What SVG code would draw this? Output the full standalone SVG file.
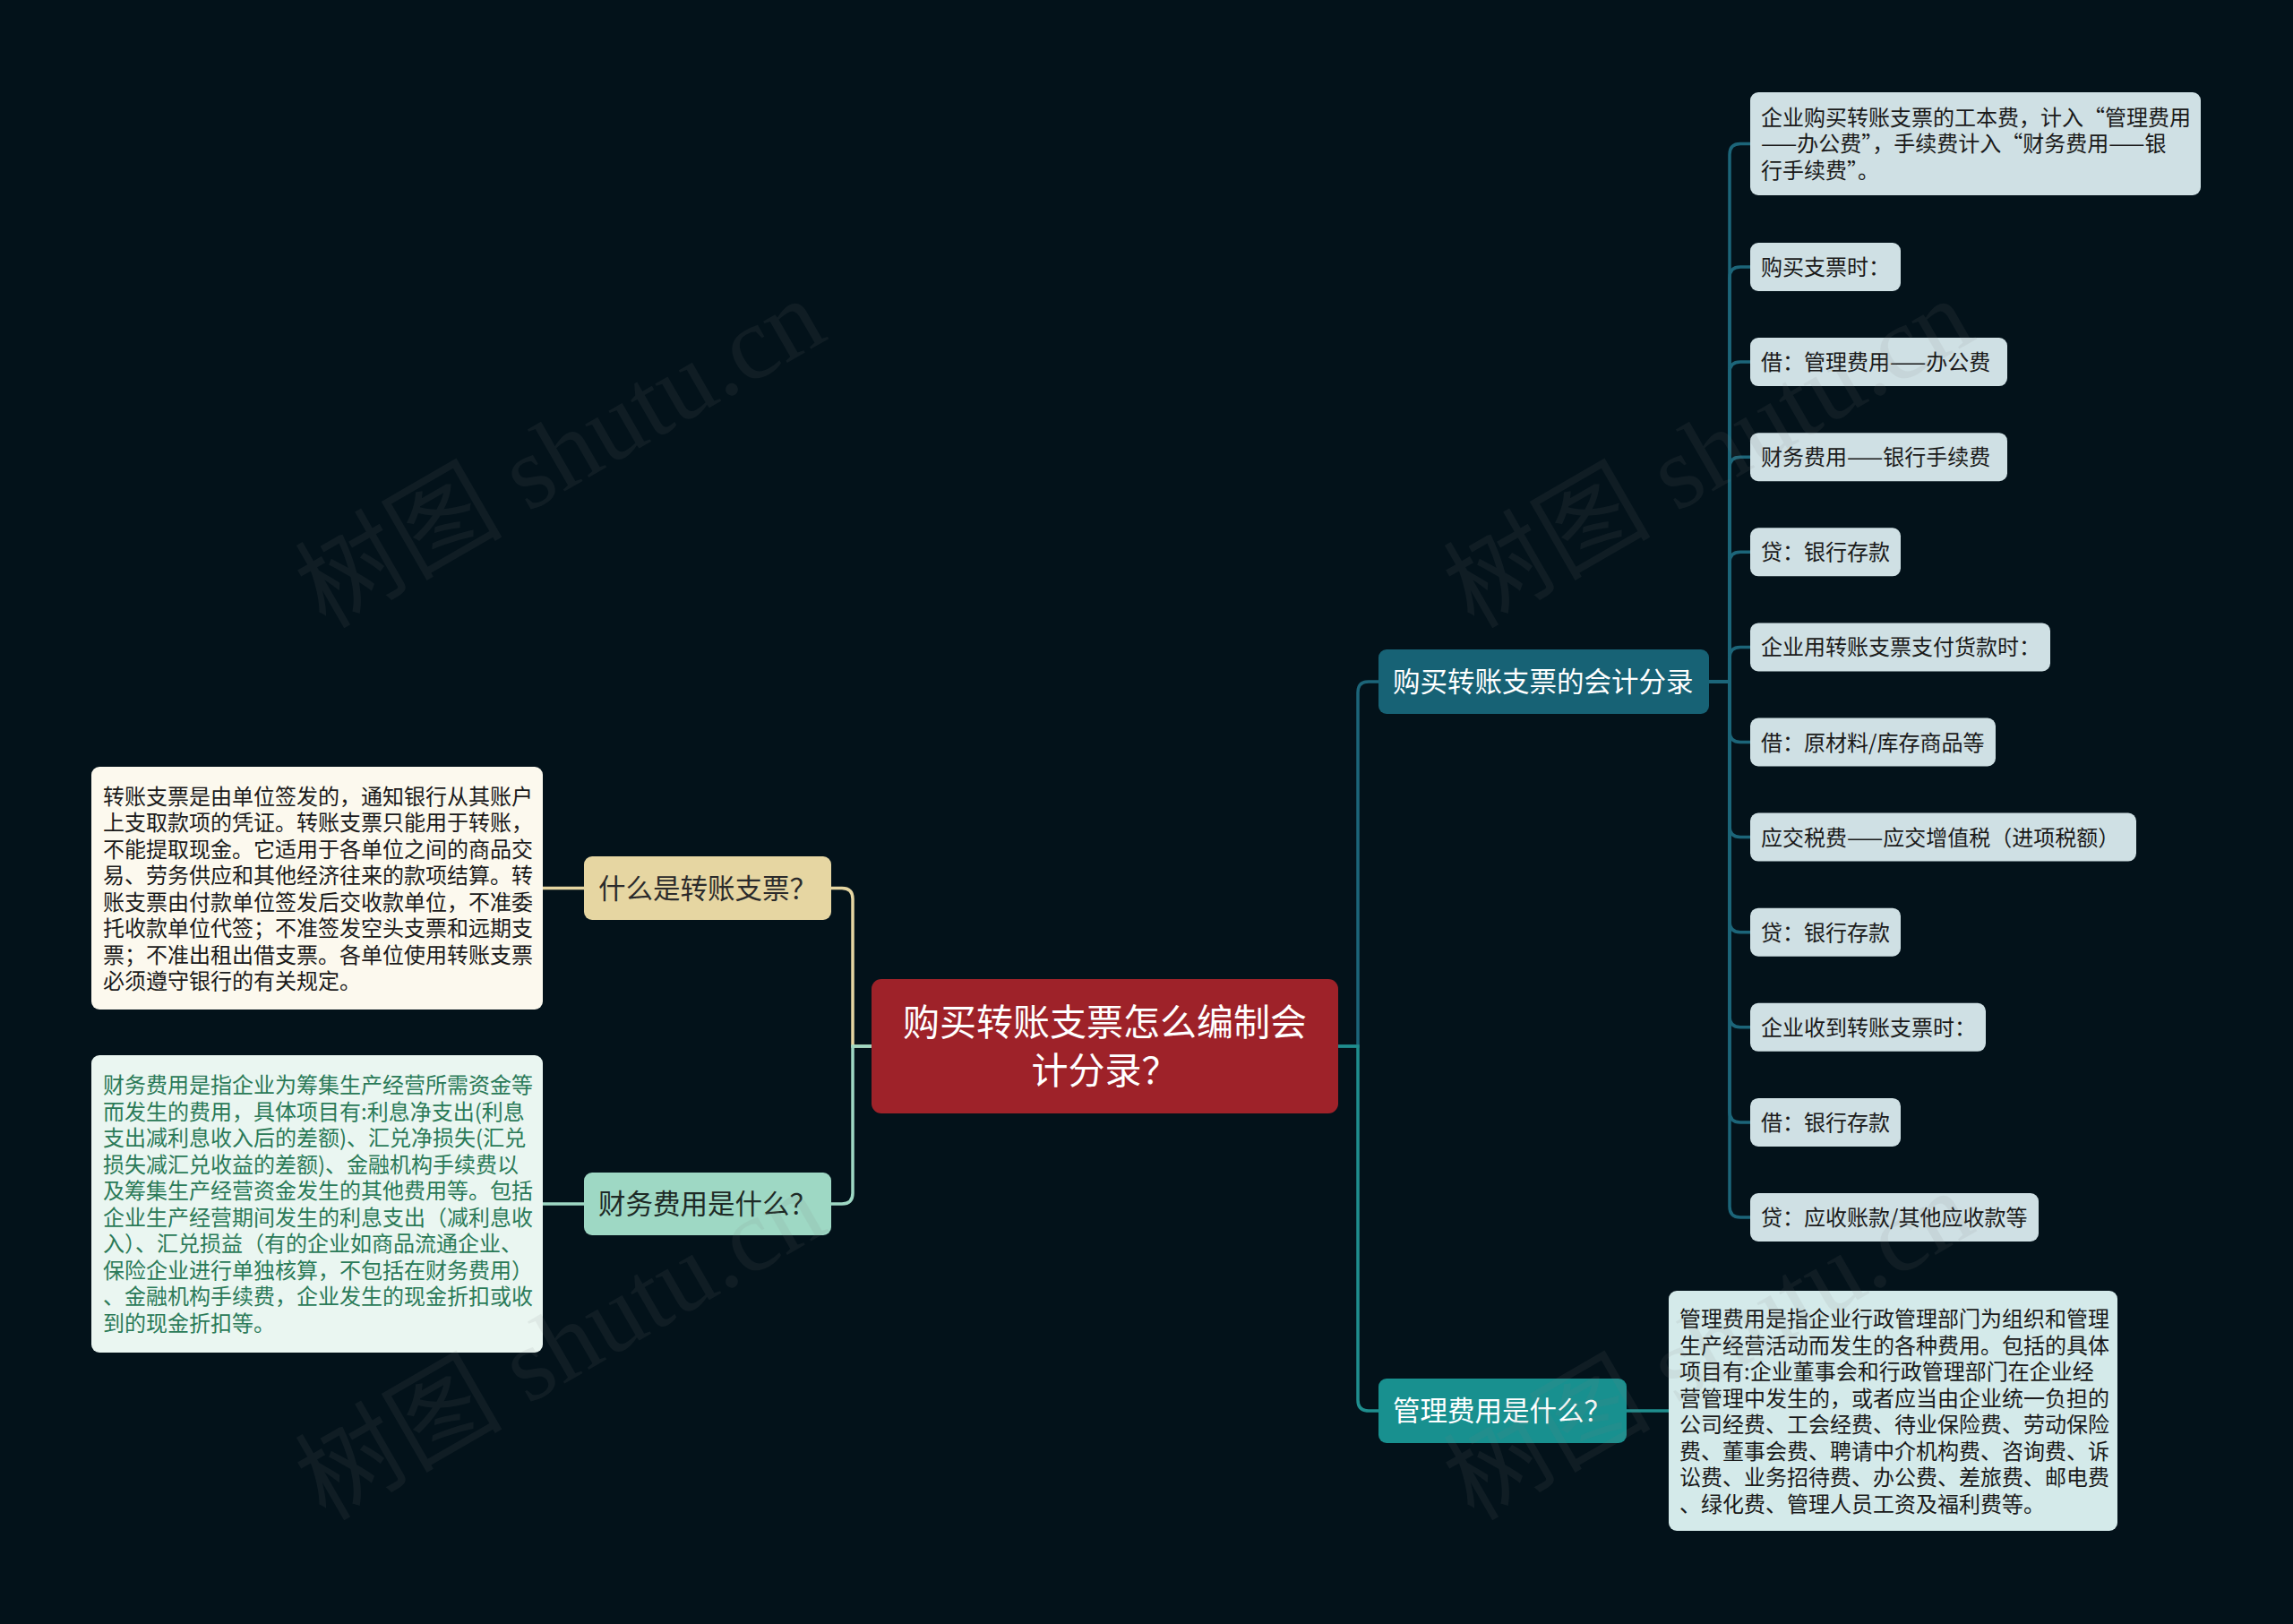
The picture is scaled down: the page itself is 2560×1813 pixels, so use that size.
<svg xmlns="http://www.w3.org/2000/svg" width="2560" height="1813" viewBox="0 0 2560 1813">
<style>
text{font-family:"Noto Sans CJK SC","Noto Sans",sans-serif;}
.leaf{fill:#cfe0e4;}
.lt{font-size:24px;fill:#1a1a1a;}
.bt{font-size:30.5px;}
.con{fill:none;stroke-width:3.5;stroke-linecap:round;}
.c1{stroke:#1c6579;}
.c2{stroke:#1f8e8e;}
.c3{stroke:#e6d6a2;}
.c4{stroke:#9ed8c4;}
.wm{font-family:"Liberation Serif","Noto Sans CJK SC",serif;font-size:116px;fill:#808080;opacity:0.1;}
</style>
<rect x="0" y="0" width="2560" height="1813" fill="#03121a"/>

<g id="connectors">
  <path class="con c3" d="M973 1168 H952 V1003.5 Q952 991.5 940 991.5 H928"/>
  <path class="con c4" d="M973 1168 H952 V1332 Q952 1344 940 1344 H928"/>
  <path class="con c3" d="M652 991.5 H606"/>
  <path class="con c4" d="M652 1344 H606"/>
  <path class="con c1" d="M1494 1168 H1516 V773 Q1516 761 1528 761 H1539"/>
  <path class="con c2" d="M1494 1168 H1516 V1563 Q1516 1575 1528 1575 H1539"/>
  <path class="con c2" d="M1816 1575 H1863"/>
  <path class="con c1" d="M1908 761 H1931 V172.5 Q1931 160.5 1943 160.5 H1954"/>
  <path class="con c1" d="M1908 761 H1931 V310 Q1931 298 1943 298 H1954"/>
  <path class="con c1" d="M1908 761 H1931 V416.1 Q1931 404.1 1943 404.1 H1954"/>
  <path class="con c1" d="M1908 761 H1931 V522.2 Q1931 510.2 1943 510.2 H1954"/>
  <path class="con c1" d="M1908 761 H1931 V628.3 Q1931 616.3 1943 616.3 H1954"/>
  <path class="con c1" d="M1908 761 H1931 V734.4 Q1931 722.4 1943 722.4 H1954"/>
  <path class="con c1" d="M1908 761 H1931 V816.5 Q1931 828.5 1943 828.5 H1954"/>
  <path class="con c1" d="M1908 761 H1931 V922.6 Q1931 934.6 1943 934.6 H1954"/>
  <path class="con c1" d="M1908 761 H1931 V1028.7 Q1931 1040.7 1943 1040.7 H1954"/>
  <path class="con c1" d="M1908 761 H1931 V1134.8 Q1931 1146.8 1943 1146.8 H1954"/>
  <path class="con c1" d="M1908 761 H1931 V1240.9 Q1931 1252.9 1943 1252.9 H1954"/>
  <path class="con c1" d="M1908 761 H1931 V1347 Q1931 1359 1943 1359 H1954"/>
</g>

<g id="root">
  <rect x="973" y="1093" width="521" height="150" rx="11" fill="#9e2229"/>
  <text x="1233.5" y="1156" font-size="41" fill="#ffffff" text-anchor="middle">购买转账支票怎么编制会</text>
  <text x="1233.5" y="1210" font-size="41" fill="#ffffff" text-anchor="middle">计分录？</text>
</g>

<g id="n-what-cheque">
  <rect x="652" y="956" width="276" height="71" rx="9" fill="#e6d6a2"/>
  <text class="bt" x="668" y="1002.5" fill="#2b2b2b">什么是转账支票？</text>
</g>
<g id="n-what-cheque-desc">
  <rect x="102" y="856" width="504" height="271" rx="9" fill="#fcf9ee"/>
  <g class="lt" fill="#2b2b2b">
    <text class="lt" x="115" y="897.5">转账支票是由单位签发的，通知银行从其账户</text>
    <text class="lt" x="115" y="927">上支取款项的凭证。转账支票只能用于转账，</text>
    <text class="lt" x="115" y="956.5">不能提取现金。它适用于各单位之间的商品交</text>
    <text class="lt" x="115" y="986">易、劳务供应和其他经济往来的款项结算。转</text>
    <text class="lt" x="115" y="1015.5">账支票由付款单位签发后交收款单位，不准委</text>
    <text class="lt" x="115" y="1045">托收款单位代签；不准签发空头支票和远期支</text>
    <text class="lt" x="115" y="1074.5">票；不准出租出借支票。各单位使用转账支票</text>
    <text class="lt" x="115" y="1104">必须遵守银行的有关规定。</text>
  </g>
</g>

<g id="n-finance-fee">
  <rect x="652" y="1309" width="276" height="70" rx="9" fill="#9ed8c4"/>
  <text class="bt" x="668" y="1355" fill="#1e2a26">财务费用是什么？</text>
</g>
<g id="n-finance-fee-desc">
  <rect x="102" y="1178" width="504" height="332" rx="9" fill="#eaf6f1"/>
  <text class="lt" style="fill:#2a7a58" x="115" y="1220">财务费用是指企业为筹集生产经营所需资金等</text>
  <text class="lt" style="fill:#2a7a58" x="115" y="1249.5">而发生的费用，具体项目有:利息净支出(利息</text>
  <text class="lt" style="fill:#2a7a58" x="115" y="1279">支出减利息收入后的差额)、汇兑净损失(汇兑</text>
  <text class="lt" style="fill:#2a7a58" x="115" y="1308.5">损失减汇兑收益的差额)、金融机构手续费以</text>
  <text class="lt" style="fill:#2a7a58" x="115" y="1338">及筹集生产经营资金发生的其他费用等。包括</text>
  <text class="lt" style="fill:#2a7a58" x="115" y="1367.5">企业生产经营期间发生的利息支出（减利息收</text>
  <text class="lt" style="fill:#2a7a58" x="115" y="1397">入）、汇兑损益（有的企业如商品流通企业、</text>
  <text class="lt" style="fill:#2a7a58" x="115" y="1426.5">保险企业进行单独核算，不包括在财务费用）</text>
  <text class="lt" style="fill:#2a7a58" x="115" y="1456">、金融机构手续费，企业发生的现金折扣或收</text>
  <text class="lt" style="fill:#2a7a58" x="115" y="1485.5">到的现金折扣等。</text>
</g>

<g id="n-entries">
  <rect x="1539" y="725" width="369" height="72" rx="9" fill="#176275"/>
  <text class="bt" x="1555" y="772" fill="#ffffff">购买转账支票的会计分录</text>
</g>

<g id="n-mgmt-fee">
  <rect x="1539" y="1539" width="277" height="72" rx="9" fill="#18908f"/>
  <text class="bt" x="1555" y="1586" fill="#ffffff">管理费用是什么？</text>
</g>
<g id="n-mgmt-fee-desc">
  <rect x="1863" y="1441" width="501" height="268" rx="9" fill="#d4eaea"/>
  <text class="lt" x="1875" y="1481">管理费用是指企业行政管理部门为组织和管理</text>
  <text class="lt" x="1875" y="1510.5">生产经营活动而发生的各种费用。包括的具体</text>
  <text class="lt" x="1875" y="1540">项目有:企业董事会和行政管理部门在企业经</text>
  <text class="lt" x="1875" y="1569.5">营管理中发生的，或者应当由企业统一负担的</text>
  <text class="lt" x="1875" y="1599">公司经费、工会经费、待业保险费、劳动保险</text>
  <text class="lt" x="1875" y="1628.5">费、董事会费、聘请中介机构费、咨询费、诉</text>
  <text class="lt" x="1875" y="1658">讼费、业务招待费、办公费、差旅费、邮电费</text>
  <text class="lt" x="1875" y="1687.5">、绿化费、管理人员工资及福利费等。</text>
</g>

<g id="leaf-1">
  <rect class="leaf" x="1954" y="103" width="503" height="115" rx="9"/>
  <text class="lt" x="1966" y="139.5">企业购买转账支票的工本费，计入“管理费用</text>
  <text class="lt" x="1966" y="169">——办公费”，手续费计入“财务费用——银</text>
  <text class="lt" x="1966" y="198.5">行手续费”。</text>
</g>
<g id="leaf-2"><rect class="leaf" x="1954" y="271" width="168" height="54" rx="9"/><text class="lt" x="1966" y="307">购买支票时：</text></g>
<g id="leaf-3"><rect class="leaf" x="1954" y="377.1" width="287" height="54" rx="9"/><text class="lt" x="1966" y="413.1">借：管理费用——办公费</text></g>
<g id="leaf-4"><rect class="leaf" x="1954" y="483.2" width="287" height="54" rx="9"/><text class="lt" x="1966" y="519.2">财务费用——银行手续费</text></g>
<g id="leaf-5"><rect class="leaf" x="1954" y="589.3" width="168" height="54" rx="9"/><text class="lt" x="1966" y="625.3">贷：银行存款</text></g>
<g id="leaf-6"><rect class="leaf" x="1954" y="695.4" width="335" height="54" rx="9"/><text class="lt" x="1966" y="731.4">企业用转账支票支付货款时：</text></g>
<g id="leaf-7"><rect class="leaf" x="1954" y="801.5" width="274" height="54" rx="9"/><text class="lt" x="1966" y="837.5">借：原材料/库存商品等</text></g>
<g id="leaf-8"><rect class="leaf" x="1954" y="907.6" width="431" height="54" rx="9"/><text class="lt" x="1966" y="943.6">应交税费——应交增值税（进项税额）</text></g>
<g id="leaf-9"><rect class="leaf" x="1954" y="1013.7" width="168" height="54" rx="9"/><text class="lt" x="1966" y="1049.7">贷：银行存款</text></g>
<g id="leaf-10"><rect class="leaf" x="1954" y="1119.8" width="263" height="54" rx="9"/><text class="lt" x="1966" y="1155.8">企业收到转账支票时：</text></g>
<g id="leaf-11"><rect class="leaf" x="1954" y="1225.9" width="168" height="54" rx="9"/><text class="lt" x="1966" y="1261.9">借：银行存款</text></g>
<g id="leaf-12"><rect class="leaf" x="1954" y="1332" width="322" height="54" rx="9"/><text class="lt" x="1966" y="1368">贷：应收账款/其他应收款等</text></g>

<g id="watermarks">
  <text class="wm" x="645" y="540" text-anchor="middle" transform="rotate(-30 645 540)">树图 shutu.cn</text>
  <text class="wm" x="645" y="1536" text-anchor="middle" transform="rotate(-30 645 1536)">树图 shutu.cn</text>
  <text class="wm" x="1927" y="540" text-anchor="middle" transform="rotate(-30 1927 540)">树图 shutu.cn</text>
  <text class="wm" x="1927" y="1536" text-anchor="middle" transform="rotate(-30 1927 1536)">树图 shutu.cn</text>
</g>
</svg>
